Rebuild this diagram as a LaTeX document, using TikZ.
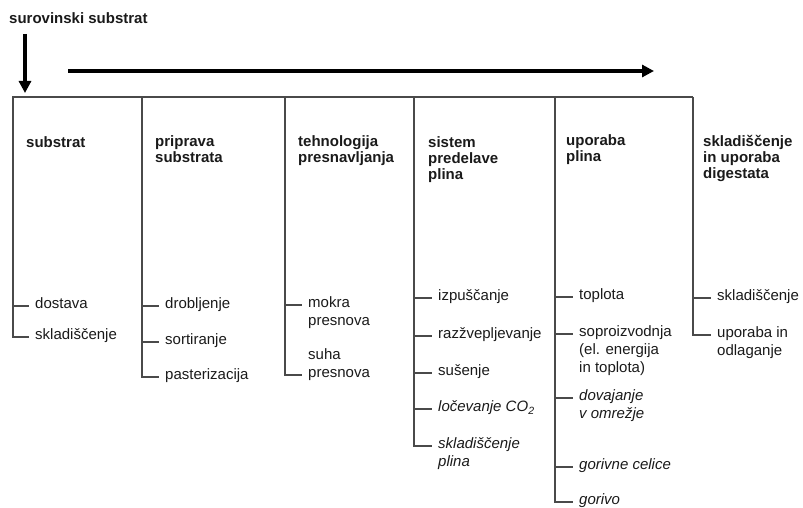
\documentclass[tikz,border=0pt]{standalone}
\usepackage{fontspec}
\setmainfont{Liberation Sans}
\usetikzlibrary{arrows.meta}
\definecolor{linegray}{HTML}{4A4A4A}
\definecolor{txt}{HTML}{1A1A1A}
\newcommand{\ml}[1]{\begin{tabular}[t]{@{}l@{}}#1\end{tabular}}
\newcommand{\mlb}[1]{\begin{tabular}[b]{@{}l@{}}#1\end{tabular}}
\tikzset{
  hdr/.style={anchor=mid west, inner sep=0pt, text=txt, font=\fontsize{15}{16}\selectfont\bfseries},
  item/.style={anchor=mid west, inner xsep=6pt, inner ysep=0pt, text=txt, font=\fontsize{15}{18}\selectfont},
  ln/.style={draw=linegray, line width=2pt},
  bigarrow/.style={draw=black, line width=3.2pt, -{Triangle[length=12pt,width=12pt]}}
}
\begin{document}
\begin{tikzpicture}[x=1pt,y=-1pt]
\useasboundingbox (0,0) rectangle (803,508);
% title and arrows
\node[hdr] (title) at (9,21) {surovinski substrat};
\coordinate (arrtop) at (25,34);
\coordinate (arrbot) at (25,93);
\draw[bigarrow] (arrtop) -- (arrbot);
\coordinate (flowstart) at (68,71);
\coordinate (flowend) at (654,71);
\draw[bigarrow] (flowstart) -- (flowend);
% column tops
\coordinate (c1) at (13,97);
\coordinate (c2) at (142,97);
\coordinate (c3) at (285,97);
\coordinate (c4) at (414,97);
\coordinate (c5) at (555,97);
\coordinate (c6) at (693,97);
% headers
\node[hdr] (h1) at (26,145) {substrat};
\node[hdr] (h2) at (155,144) {\ml{priprava\\substrata}};
\node[hdr] (h3) at (298,144) {\ml{tehnologija\\presnavljanja}};
\node[hdr] (h4) at (428,145) {\ml{sistem\\predelave\\plina}};
\node[hdr] (h5) at (566,143) {\ml{uporaba\\plina}};
\node[hdr] (h6) at (703,144) {\ml{skladiščenje\\in uporaba\\digestata}};
% column 1
\node[item] (a1) at (29,306) {dostava};
\node[item] (a2) at (29,337) {skladiščenje};
% column 2
\node[item] (b1) at (159,306) {drobljenje};
\node[item] (b2) at (159,342) {sortiranje};
\node[item] (b3) at (159,377) {pasterizacija};
% column 3
\node[item] (d1) at (302,305) {\ml{mokra\\presnova}};
\node[item] (d2) at (302,375) {\mlb{suha\\presnova}};
% column 4
\node[item] (e1) at (432,298) {izpuščanje};
\node[item] (e2) at (432,336) {razžvepljevanje};
\node[item] (e3) at (432,373) {sušenje};
\node[item] (e4) at (432,409) {\itshape ločevanje CO\textsubscript{2}};
\node[item] (e5) at (432,446) {\itshape\ml{skladiščenje\\plina}};
% column 5
\node[item] (f1) at (573,297) {toplota};
\node[item] (f2) at (573,334) {\ml{soproizvodnja\\(el. energija\\in toplota)}};
\node[item] (f3) at (573,398) {\itshape\ml{dovajanje\\v omrežje}};
\node[item] (f4) at (573,467) {\itshape gorivne celice};
\node[item] (f5) at (573,502) {\itshape gorivo};
% column 6
\node[item] (g1) at (711,298) {skladiščenje};
\node[item] (g2) at (711,335) {\ml{uporaba in\\odlaganje}};
% lines
\draw[ln] (a2.mid west) -| (c1) -- (c6);
\draw[ln] (c1 |- a1.mid west) -- (a1.mid west);
\draw[ln] (c2) |- (b3.mid west);
\draw[ln] (c2 |- b1.mid west) -- (b1.mid west);
\draw[ln] (c2 |- b2.mid west) -- (b2.mid west);
\draw[ln] (c3) |- (d2.mid west);
\draw[ln] (c3 |- d1.mid west) -- (d1.mid west);
\draw[ln] (c4) |- (e5.mid west);
\draw[ln] (c4 |- e1.mid west) -- (e1.mid west);
\draw[ln] (c4 |- e2.mid west) -- (e2.mid west);
\draw[ln] (c4 |- e3.mid west) -- (e3.mid west);
\draw[ln] (c4 |- e4.mid west) -- (e4.mid west);
\draw[ln] (c5) |- (f5.mid west);
\draw[ln] (c5 |- f1.mid west) -- (f1.mid west);
\draw[ln] (c5 |- f2.mid west) -- (f2.mid west);
\draw[ln] (c5 |- f3.mid west) -- (f3.mid west);
\draw[ln] (c5 |- f4.mid west) -- (f4.mid west);
\draw[ln] (c6) |- (g2.mid west);
\draw[ln] (c6 |- g1.mid west) -- (g1.mid west);
\end{tikzpicture}
\end{document}
